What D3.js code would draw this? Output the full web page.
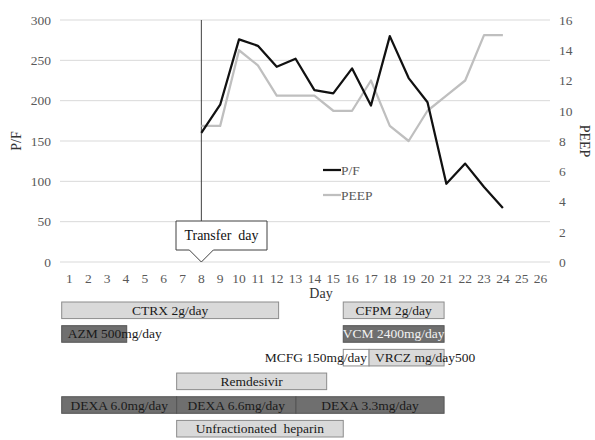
<!DOCTYPE html>
<html>
<head>
<meta charset="utf-8">
<script src="https://cdn.jsdelivr.net/npm/d3@7"></script>
<style>
  body { margin: 0; background: #fff; }
  svg text { font-family: "Liberation Serif", "DejaVu Serif", serif; }
</style>
</head>
<body>
<div id="chart"></div>
<script>
const days = d3.range(1, 27)
const pfDays = d3.range(8, 25)
const pf = [160, 195, 276, 268, 242, 252, 213, 209, 240, 194, 280, 228, 198, 97, 122, 93, 67]
const peep = [9, 9, 14, 13, 11, 11, 11, 10, 10, 12, 9, 8, 10, 11, 12, 15, 15]
const pfTicks = [0, 50, 100, 150, 200, 250, 300]
const peepTicks = [0, 2, 4, 6, 8, 10, 12, 14, 16]
const transferDay = 8

// treatments: row, start day, end day, label
const drugRows = ['abx', 'azm', 'fungal', 'remdesivir', 'dexa', 'heparin']
const drugs = [
  { row: 'abx', start: 0.59, end: 12.1, label: 'CTRX 2g/day', kind: 'light' },
  { row: 'abx', start: 15.53, end: 20.88, label: 'CFPM 2g/day', kind: 'light' },
  { row: 'azm', start: 0.59, end: 4.04, label: 'AZM 500mg/day', kind: 'dark', anchor: 'start' },
  { row: 'azm', start: 15.53, end: 20.88, label: 'VCM 2400mg/day', kind: 'dark' },
  { row: 'fungal', start: 15.53, end: 16.9, label: 'MCFG 150mg/day', kind: 'white', anchor: 'end' },
  { row: 'fungal', start: 16.9, end: 20.88, label: 'VRCZ mg/day500', kind: 'light', anchor: 'start' },
  { row: 'remdesivir', start: 6.69, end: 14.65, label: 'Remdesivir', kind: 'light' },
  { row: 'dexa', start: 0.59, end: 6.69, label: 'DEXA 6.0mg/day', kind: 'dark' },
  { row: 'dexa', start: 6.69, end: 13.02, label: 'DEXA 6.6mg/day', kind: 'dark' },
  { row: 'dexa', start: 13.02, end: 20.88, label: 'DEXA 3.3mg/day', kind: 'dark' },
  { row: 'heparin', start: 6.69, end: 15.53, label: 'Unfractionated  heparin', kind: 'light' }
]

const width = 595
const height = 440
const plot = { left: 60, right: 550, top: 20, bottom: 262 }
const tickColor = '#595959'
const serif = '"Liberation Serif", "DejaVu Serif", serif'
const fills = { light: '#d9d9d9', dark: '#6f6f6f', white: '#ffffff' }

const svg = d3
  .select('#chart')
  .append('svg')
  .attr('width', width)
  .attr('height', height)

const x = d3.scaleBand().domain(days).range([plot.left, plot.right])
const xDay = d3.scaleLinear().domain([0.5, 26.5]).range([plot.left, plot.right])
const yPF = d3.scaleLinear().domain([0, 300]).range([plot.bottom, plot.top])
const yPEEP = d3.scaleLinear().domain([0, 16]).range([plot.bottom, plot.top])

// gridlines
svg
  .append('g')
  .selectAll('line')
  .data(pfTicks)
  .enter()
  .append('line')
  .attr('x1', plot.left)
  .attr('x2', plot.right)
  .attr('y1', (d) => yPF(d))
  .attr('y2', (d) => yPF(d))
  .attr('stroke', '#d9d9d9')
  .attr('stroke-width', 1)

function styleAxis(g) {
  g.select('.domain').remove()
  g.attr('font-family', serif).attr('font-size', 13.5)
  g.selectAll('text').attr('fill', tickColor)
}

// left axis
svg
  .append('g')
  .attr('transform', `translate(${plot.left},0)`)
  .call(d3.axisLeft(yPF).tickValues(pfTicks).tickSize(0).tickPadding(9))
  .call(styleAxis)

// right axis
svg
  .append('g')
  .attr('transform', `translate(${plot.right},0)`)
  .call(d3.axisRight(yPEEP).tickValues(peepTicks).tickSize(0).tickPadding(9))
  .call(styleAxis)

// bottom axis
svg
  .append('g')
  .attr('transform', `translate(0,${plot.bottom})`)
  .call(d3.axisBottom(x).tickSize(0).tickPadding(11))
  .call(styleAxis)

// axis titles
svg
  .append('text')
  .attr('transform', `translate(21,${(plot.top + plot.bottom) / 2}) rotate(-90)`)
  .attr('text-anchor', 'middle')
  .attr('fill', '#333')
  .style('font-size', '14px')
  .text('P/F')

svg
  .append('text')
  .attr('transform', `translate(580,${(plot.top + plot.bottom) / 2}) rotate(90)`)
  .attr('text-anchor', 'middle')
  .attr('fill', '#333')
  .style('font-size', '14px')
  .text('PEEP')

svg
  .append('text')
  .attr('x', (plot.left + plot.right) / 2 + 16)
  .attr('y', 298)
  .attr('text-anchor', 'middle')
  .attr('fill', '#333')
  .style('font-size', '14px')
  .text('Day')

// transfer line
const tx = x(transferDay) + x.bandwidth() / 2
svg
  .append('line')
  .attr('x1', tx)
  .attr('x2', tx)
  .attr('y1', plot.top)
  .attr('y2', 221)
  .attr('stroke', '#404040')
  .attr('stroke-width', 1)

// lines
const cx = (d) => x(d) + x.bandwidth() / 2
const peepLine = d3
  .line()
  .x((d, i) => cx(pfDays[i]))
  .y((d) => yPEEP(d))
const pfLine = d3
  .line()
  .x((d, i) => cx(pfDays[i]))
  .y((d) => yPF(d))

svg
  .append('path')
  .attr('d', peepLine(peep))
  .attr('fill', 'none')
  .attr('stroke', '#bfbfbf')
  .attr('stroke-width', 2.25)
  .attr('stroke-linejoin', 'round')

svg
  .append('path')
  .attr('d', pfLine(pf))
  .attr('fill', 'none')
  .attr('stroke', '#111')
  .attr('stroke-width', 2.25)
  .attr('stroke-linejoin', 'round')

// legend
const legend = svg.append('g').attr('transform', 'translate(323,170)')
const legendItems = [
  { label: 'P/F', color: '#111' },
  { label: 'PEEP', color: '#bfbfbf' }
]
legendItems.forEach((d, i) => {
  const g = legend.append('g').attr('transform', `translate(0,${i * 25})`)
  g.append('line')
    .attr('x1', 0)
    .attr('x2', 18)
    .attr('stroke', d.color)
    .attr('stroke-width', 2.25)
  g.append('text')
    .attr('x', 18)
    .attr('y', 5)
    .attr('fill', tickColor)
    .style('font-size', '13.5px')
    .text(d.label)
})

// transfer day callout
const callout = svg.append('g')
const bx0 = 176
const bx1 = 267
const by0 = 221
const by1 = 250
callout
  .append('path')
  .attr(
    'd',
    `M ${bx0} ${by0} L ${bx1} ${by0} L ${bx1} ${by1} L ${tx + 12} ${by1} L ${tx} ${plot.bottom} L ${tx - 12} ${by1} L ${bx0} ${by1} Z`
  )
  .attr('fill', '#fff')
  .attr('stroke', '#404040')
  .attr('stroke-width', 1)
callout
  .append('text')
  .attr('x', (bx0 + bx1) / 2)
  .attr('y', by0 + 19)
  .attr('text-anchor', 'middle')
  .attr('fill', '#111')
  .style('font-size', '14px')
  .style('white-space', 'pre')
  .text('Transfer  day')

// treatment bars
const yRow = d3.scaleBand().domain(drugRows).range([302, 437]).paddingInner(0.3).paddingOuter(0)

const bars = svg
  .append('g')
  .selectAll('g.drug')
  .data(drugs)
  .enter()
  .append('g')
  .attr('class', 'drug')

bars
  .append('rect')
  .attr('x', (d) => xDay(d.start))
  .attr('y', (d) => yRow(d.row))
  .attr('width', (d) => xDay(d.end) - xDay(d.start))
  .attr('height', yRow.bandwidth())
  .attr('fill', (d) => fills[d.kind])
  .attr('stroke', (d) => (d.kind === 'dark' ? '#555' : '#8c8c8c'))
  .attr('stroke-width', 1)

bars
  .append('text')
  .attr('x', (d) => {
    if (d.anchor === 'start') return xDay(d.start) + 6
    if (d.anchor === 'end') return xDay(d.end) - 2
    return (xDay(d.start) + xDay(d.end)) / 2
  })
  .attr('y', (d) => yRow(d.row) + yRow.bandwidth() / 2 + 4.5)
  .attr('text-anchor', (d) => d.anchor || 'middle')
  .attr('fill', (d) => (d.label.startsWith('VCM') ? '#f2f2f2' : '#1a1a1a'))
  .style('font-size', '13.5px')
  .style('white-space', 'pre')
  .text((d) => d.label)
</script>
</body>
</html>
